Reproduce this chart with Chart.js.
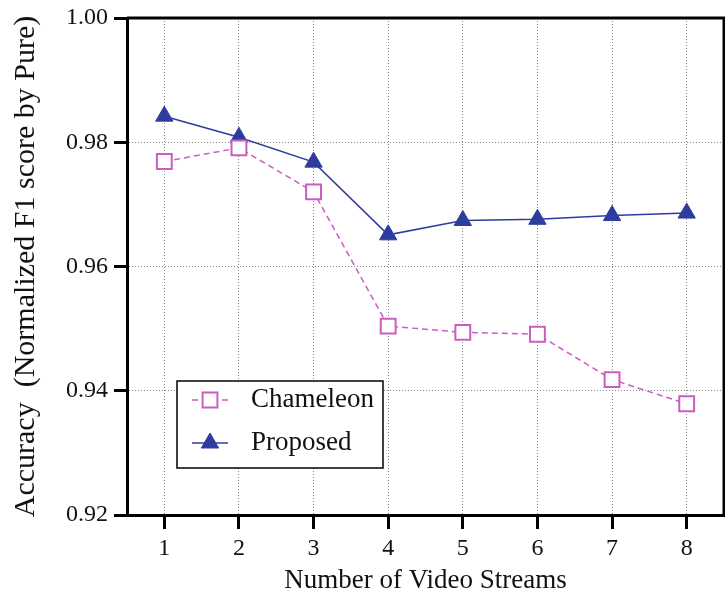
<!DOCTYPE html>
<html lang="en">
<head>
<meta charset="UTF-8" />
<script src="https://cdn.jsdelivr.net/npm/chart.js"></script>
<title>Accuracy vs video streams</title>
<style>
  html, body { margin: 0; padding: 0; background: #fff; }
  #wrap { width: 725px; height: 592px; }
</style>
</head>
<body>
<div id="wrap"><canvas id="chart"></canvas></div>
<script>
// data
const streams = [1, 2, 3, 4, 5, 6, 7, 8];
const chameleon = [0.9769, 0.9791, 0.9720, 0.9504, 0.9494, 0.9491, 0.9418, 0.9379];
const proposed = [0.9842, 0.9808, 0.9768, 0.9651, 0.9674, 0.9676, 0.9682, 0.9686];
const yTicks = [0.92, 0.94, 0.96, 0.98, 1.00];

const serif = '"Liberation Serif", "Times New Roman", serif';
const pink = '#cc5cbf';
const blue = '#2f3c9f';

const toPoints = vals => streams.map((s, i) => ({ x: s, y: vals[i] }));

// frame (top/right) + legend box inside the plot
const framePlugin = {
    id: 'frame',
    afterDatasetsDraw(chart) {
        const { ctx, chartArea: a } = chart;
        ctx.save();
        ctx.strokeStyle = '#000';
        ctx.lineWidth = 3;
        ctx.beginPath();
        ctx.moveTo(a.left, a.top);
        ctx.lineTo(a.right, a.top);
        ctx.lineTo(a.right, a.bottom);
        ctx.stroke();

        // legend
        const bx = a.left + 50, by = a.top + 363, bw = 206, bh = 87;
        ctx.fillStyle = '#fff';
        ctx.fillRect(bx, by, bw, bh);
        ctx.lineWidth = 1.5;
        ctx.strokeRect(bx, by, bw, bh);
        chart.data.datasets.forEach((ds, i) => {
            const cy = by + 19 + i * 43;
            const x0 = bx + 15, x1 = bx + 51;
            ctx.strokeStyle = ds.borderColor;
            ctx.lineWidth = ds.borderWidth;
            ctx.setLineDash(ds.borderDash || []);
            ctx.beginPath();
            ctx.moveTo(x0, cy);
            ctx.lineTo(x1, cy);
            ctx.stroke();
            ctx.setLineDash([]);
            ctx.fillStyle = ds.pointBackgroundColor;
            ctx.strokeStyle = ds.pointBorderColor;
            ctx.lineWidth = ds.pointBorderWidth;
            Chart.helpers.drawPoint(ctx, { pointStyle: ds.pointStyle, radius: ds.pointRadius, borderWidth: ds.pointBorderWidth, rotation: 0 }, (x0 + x1) / 2, cy);
            ctx.fillStyle = '#111';
            ctx.font = '27px ' + serif;
            ctx.textBaseline = 'middle';
            ctx.textAlign = 'left';
            ctx.fillText(ds.label, bx + 74, cy);
        });
        ctx.restore();
    }
};

new Chart(document.getElementById('chart'), {
    type: 'line',
    data: {
        datasets: [
            {
                label: 'Chameleon',
                data: toPoints(chameleon),
                borderColor: pink,
                borderWidth: 1.5,
                borderDash: [6, 4],
                pointStyle: 'rect',
                pointRadius: 10.5,
                pointBorderWidth: 2,
                pointBackgroundColor: '#fff',
                pointBorderColor: pink,
                tension: 0
            },
            {
                label: 'Proposed',
                data: toPoints(proposed),
                borderColor: blue,
                borderWidth: 1.5,
                pointStyle: 'triangle',
                pointRadius: 10,
                pointBorderWidth: 1,
                pointBackgroundColor: blue,
                pointBorderColor: blue,
                tension: 0
            }
        ]
    },
    options: {
        responsive: true,
        maintainAspectRatio: false,
        animation: false,
        layout: { autoPadding: false, padding: { left: 0, top: 18, right: 1, bottom: 0 } },
        plugins: {
            legend: { display: false },
            tooltip: { enabled: false }
        },
        scales: {
            x: {
                type: 'linear',
                min: 0.5,
                max: 8.5,
                afterBuildTicks: s => { s.ticks = streams.map(v => ({ value: v })); },
                afterFit: s => { s.height = 77; s.paddingLeft = 0; s.paddingRight = 0; },
                grid: {
                    color: '#888',
                    lineWidth: 1,
                    tickColor: '#000',
                    tickWidth: 3,
                    tickLength: 14,
                    tickBorderDash: []
                },
                border: { display: true, color: '#000', width: 3, dash: [1, 2] },
                ticks: {
                    color: '#111',
                    padding: 5,
                    font: { family: serif, size: 24 },
                    callback: v => String(v)
                },
                title: {
                    display: true,
                    text: 'Number of Video Streams',
                    color: '#111',
                    font: { family: serif, size: 27 },
                    padding: { top: 0, bottom: -5 }
                }
            },
            y: {
                min: 0.92,
                max: 1.00,
                afterBuildTicks: s => { s.ticks = yTicks.map(v => ({ value: v })); },
                afterFit: s => { s.width = 127; s.paddingTop = 0; s.paddingBottom = 0; },
                grid: {
                    color: '#888',
                    lineWidth: 1,
                    tickColor: '#000',
                    tickWidth: 3,
                    tickLength: 13,
                    tickBorderDash: []
                },
                border: { display: true, color: '#000', width: 3, dash: [1, 2] },
                ticks: {
                    color: '#111',
                    padding: 6,
                    font: { family: serif, size: 24 },
                    callback: v => Number(v).toFixed(2)
                },
                title: {
                    display: true,
                    text: 'Accuracy  (Normalized F1 score by Pure)',
                    color: '#111',
                    font: { family: serif, size: 30 },
                    padding: { top: 8, bottom: 0 }
                }
            }
        }
    },
    plugins: [framePlugin]
});
</script>
</body>
</html>
